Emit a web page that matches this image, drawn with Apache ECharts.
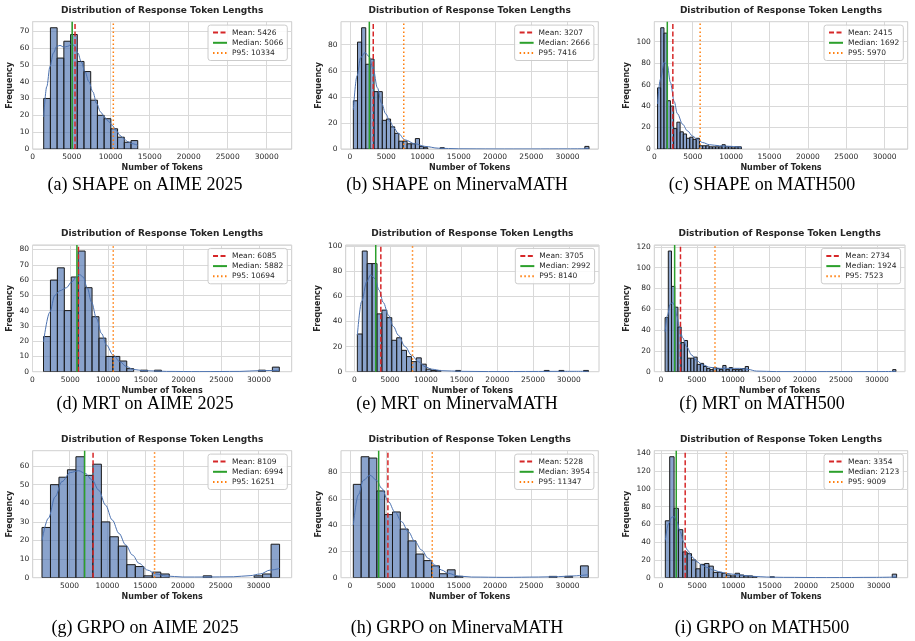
<!DOCTYPE html>
<html>
<head>
<meta charset="utf-8">
<script src="https://cdn.jsdelivr.net/npm/echarts@6/dist/echarts.min.js"></script>
<style>
html, body { margin: 0; padding: 0; background: #fff; }
#main { width: 915px; height: 641px; }
</style>
</head>
<body>
<div id="main"></div>
<script>
// captions of the nine panels
var captions = [
    '(a) SHAPE on AIME 2025', '(b) SHAPE on MinervaMATH', '(c) SHAPE on MATH500',
    '(d) MRT on AIME 2025', '(e) MRT on MinervaMATH', '(f) MRT on MATH500',
    '(g) GRPO on AIME 2025', '(h) GRPO on MinervaMATH', '(i) GRPO on MATH500'
];

// histogram: first bin edge and bin width (tokens)
var binStart = [1410, 465, 420, 1458, 420, 600, 1350, 460, 620];
var binWidth = [861, 570, 420, 918.6, 688, 445, 1123, 1080, 601];

// bin counts
var countsA = [30, 72, 54, 64, 68, 52, 46, 29, 20, 18, 12, 7, 4, 5];
var countsB = [37, 82, 93, 65, 69, 44, 44, 22, 23, 17, 12, 6, 6, 4, 4, 8, 2, 1, 0, 0, 0, 1,
    0, 0, 0, 0, 0, 0, 0, 0, 0, 0, 0, 0, 0, 0, 0, 0, 0, 0, 0, 0, 0, 0, 0, 0, 0, 0, 0, 0, 0, 0, 0, 0, 0, 0, 2];
var countsC = [57, 113, 108, 45, 40, 19, 25, 16, 14, 10, 11, 9, 10, 3, 3, 3, 2, 2, 2, 2, 4, 2, 2, 1, 2, 2];
var countsD = [23, 60, 68, 40, 62, 79, 55, 36, 22, 10, 10, 7, 2, 0, 1, 0, 1,
    0, 0, 0, 0, 0, 0, 0, 0, 0, 0, 0, 0, 0, 0, 1, 0, 3];
var countsE = [30, 96, 86, 86, 46, 49, 43, 25, 27, 17, 12, 8, 11, 6, 2, 1, 1, 0, 0, 0, 1,
    0, 0, 0, 0, 0, 0, 0, 0, 0, 0, 0, 0, 0, 0, 0, 0, 0, 1, 0, 0, 1, 0, 0, 0, 0, 1];
var countsF = [52, 116, 82, 62, 43, 28, 30, 13, 13, 14, 7, 8, 5, 3, 2, 4, 3, 2, 6, 2, 4, 2, 2, 2, 3, 5,
    0, 0, 0, 0, 0, 0, 0, 0, 0, 0, 0, 0, 0, 0, 0, 0, 0, 0, 0, 0, 0, 0, 0, 0, 0, 0, 0, 0, 0, 0,
    0, 0, 0, 0, 0, 0, 0, 0, 0, 0, 0, 0, 0, 0, 0, 2];
var countsG = [27, 50, 54, 58, 65, 55, 61, 30, 22, 17, 7, 6, 1, 3, 2, 0, 0, 0, 0, 1, 0, 0, 0, 0, 0, 1, 2, 18];
var countsH = [71, 92, 91, 66, 48, 50, 37, 28, 18, 13, 9, 3, 6, 1, 0, 0, 0, 0, 0, 0, 0, 0, 0, 0, 0, 1, 0, 1, 0, 9];
var countsI = [64, 136, 78, 54, 29, 27, 20, 10, 15, 16, 13, 6, 6, 5, 3, 2, 5, 3, 2, 2, 1, 0, 0, 0, 1,
    0, 0, 0, 0, 0, 0, 0, 0, 0, 0, 0, 0, 0, 0, 0, 0, 0, 0, 0, 0, 0, 0, 0, 0, 0, 0, 0, 4];

// kde curves [tokens, frequency]
var kdeA = [[1410, 19], [1800, 37], [2220, 49], [2650, 57], [3080, 61], [3500, 61.5], [4000, 60.5], [4500, 61],
    [5000, 62.5], [5400, 61], [5800, 57], [6200, 52], [6700, 46], [7200, 40], [7700, 34], [8200, 27], [8700, 22],
    [9200, 19], [9700, 16.5], [10200, 14], [10700, 11], [11200, 8], [11700, 6], [12200, 4.3], [12700, 3.2], [13460, 2.2]];
var kdeB = [[465, 30], [965, 56], [1470, 70], [2070, 74], [2620, 71], [3220, 61], [3770, 47], [4370, 35], [4920, 27],
    [5510, 21], [6070, 16], [6660, 12], [7580, 7], [8960, 4], [10340, 2], [12180, 0.6], [15000, 0.15], [20000, 0.03],
    [25000, 0.03], [30000, 0.1], [32955, 0.2]];
var kdeC = [[420, 42], [800, 65], [1300, 81], [1700, 78], [2100, 62], [2600, 44], [3000, 33], [3700, 23], [4300, 17],
    [5000, 12], [5600, 9], [6300, 6], [7200, 4], [8500, 3], [9800, 2.5], [11340, 1.5]];
var kdeD = [[1458, 19.5], [2300, 39], [2960, 50], [3620, 53], [4500, 55], [5170, 58.7], [5830, 62], [6270, 63.5],
    [6710, 62], [7240, 55], [7820, 45.6], [8480, 34.8], [9140, 25], [9800, 17.4], [10690, 10.9], [11570, 6.5],
    [12460, 3.3], [13340, 1.5], [14660, 0.7], [17760, 0.2], [22170, 0.05], [27470, 0.2], [30120, 0.7], [32690, 0.9]];
var kdeE = [[420, 29], [1030, 56], [1730, 71.6], [2290, 77], [2890, 74], [3450, 65], [4060, 55], [4760, 45],
    [5460, 36], [6160, 29], [7090, 20], [8020, 13], [8960, 8], [9890, 4], [10820, 2], [12220, 0.8], [15020, 0.3],
    [18750, 0.1], [25750, 0.2], [29000, 0.3], [32740, 0.3]];
var kdeF = [[600, 38], [920, 54], [1290, 64.6], [1610, 66.6], [1890, 64], [2210, 54], [2580, 43], [3040, 32.6],
    [3590, 24], [4290, 16], [4980, 10.6], [5900, 6.4], [6820, 4.2], [8200, 3.2], [9590, 3.2], [10970, 3.2],
    [12120, 2.2], [13270, 0.6], [16040, 0.1], [29860, 0.1], [32640, 0.3]];
var kdeG = [[1350, 20], [2200, 32], [3090, 43.5], [3980, 51.6], [5090, 56.5], [6200, 57.5], [7090, 56], [7980, 52.5],
    [8870, 47], [9760, 39], [10650, 31], [11540, 23.8], [12430, 17.6], [13320, 12.2], [14210, 7.7], [15320, 4.1],
    [16430, 2], [17770, 0.9], [20000, 0.36], [23100, 0.36], [26670, 0.5], [28890, 1.1], [30220, 2], [31560, 4.1], [32800, 5]];
var kdeH = [[460, 40], [1150, 63], [1840, 74], [2760, 78], [3680, 74], [4370, 68], [5280, 58], [6200, 50],
    [7120, 42.6], [8040, 35], [8960, 27.4], [9880, 21], [10800, 14.7], [11720, 9.6], [12640, 5.8], [13560, 3.3],
    [14940, 1.3], [16770, 0.5], [21370, 0.25], [25970, 0.5], [28720, 0.8], [30560, 1.3], [32860, 2.3]];
var kdeI = [[620, 42], [1060, 61], [1510, 68], [1830, 68.7], [2200, 63], [2660, 52], [3120, 40.5], [3670, 31],
    [4270, 23.6], [4950, 18], [5640, 14.3], [6330, 11.6], [7250, 8.6], [8170, 6.4], [9080, 4.9], [10000, 3.8],
    [11380, 2.6], [12750, 1.5], [14590, 0.75], [16880, 0.4], [22840, 0.1], [29720, 0.4], [32480, 0.75]];

// summary statistics
var means = [5426, 3207, 2415, 6085, 3705, 2734, 8109, 5228, 3354];
var medians = [5066, 2666, 1692, 5882, 2992, 1924, 6994, 3954, 2123];
var p95s = [10334, 7416, 5970, 10694, 8140, 7523, 16251, 11347, 9009];

// axis ranges and ticks
var xRange = [[0, 33200], [-1240, 34240], [0, 33000], [0, 34330], [-1210, 34230], [-900, 33900],
    [120, 34400], [-1240, 34240], [-900, 34000]];
var xTicks = [0, 5000, 10000, 15000, 20000, 25000, 30000];
var xTicksG = [5000, 10000, 15000, 20000, 25000, 30000];
var yStep = [10, 20, 20, 10, 20, 20, 10, 20, 20];

var countsList = [countsA, countsB, countsC, countsD, countsE, countsF, countsG, countsH, countsI];
var kdeList = [kdeA, kdeB, kdeC, kdeD, kdeE, kdeF, kdeG, kdeH, kdeI];

// layout
var gridBox = [
    [32.7, 21.7, 259, 127.3], [341, 21.7, 257.3, 127.3], [654.3, 21.7, 253.4, 127.3],
    [32.5, 245, 259.2, 126.7], [345.7, 245, 253.3, 126.7], [654.3, 245, 250.7, 126.7],
    [32.7, 450.7, 259, 127], [341, 450.7, 257.3, 127], [654.3, 450.7, 253.4, 127]
];
var yNameGap = [18.5, 18.5, 23, 18.5, 23.4, 23, 18.5, 18.5, 23];
var titleY = [10.4, 233.3, 439.3];
var captionX = [145, 457, 762];
var captionY = [185, 404, 628];

var FONT = 'DejaVu Sans';
var TXT = '#262626';
var GRIDC = '#d9d9d9';

function renderBar(params, api) {
    var c = api.value(2);
    if (!c) return null;
    var p0 = api.coord([api.value(0), c]);
    var p1 = api.coord([api.value(1), 0]);
    return {
        type: 'rect',
        shape: { x: p0[0], y: p0[1], width: p1[0] - p0[0], height: p1[1] - p0[1] },
        style: { fill: 'rgba(76,114,176,0.65)', stroke: '#1a1a1a', lineWidth: 1 }
    };
}

var grids = [], xAxes = [], yAxes = [], series = [], legends = [], graphics = [];

for (var i = 0; i < 9; i++) {
    var col = i % 3, row = Math.floor(i / 3);
    var g = gridBox[i];
    var yMax = Math.max.apply(null, countsList[i]) * 1.05;
    var step = yStep[i];

    grids.push({
        left: g[0], top: g[1], width: g[2], height: g[3],
        show: true, borderColor: '#cccccc', borderWidth: 1, backgroundColor: '#fff',
        containLabel: false, outerBoundsMode: 'none'
    });

    var ticks = i === 6 ? xTicksG : xTicks;
    xAxes.push({
        type: 'value', gridIndex: i, min: xRange[i][0], max: xRange[i][1],
        axisLine: { show: false },
        axisTick: { show: false, customValues: ticks },
        axisLabel: {
            customValues: ticks, fontSize: 7.5, color: TXT, fontFamily: FONT, margin: 4,
            formatter: function (v) { return String(v); }
        },
        splitLine: { show: true, lineStyle: { color: GRIDC, width: 1 } },
        name: 'Number of Tokens', nameLocation: 'middle', nameGap: 15.3,
        nameTextStyle: { fontFamily: FONT, fontSize: 8, fontWeight: 'bold', color: TXT }
    });

    yAxes.push({
        type: 'value', gridIndex: i, min: 0, max: yMax, interval: step,
        axisLine: { show: false },
        axisTick: { show: false },
        axisLabel: {
            fontSize: 7.5, color: TXT, fontFamily: FONT, margin: 3.5,
            formatter: (function (s) {
                return function (v) { return Math.abs(v % s) < 1e-6 ? String(v) : ''; };
            })(step)
        },
        splitLine: { show: true, lineStyle: { color: GRIDC, width: 1 } },
        name: 'Frequency', nameLocation: 'middle', nameGap: yNameGap[i],
        nameTextStyle: { fontFamily: FONT, fontSize: 8, fontWeight: 'bold', color: TXT }
    });

    var bars = countsList[i].map(function (c, k) {
        return [binStart[i] + k * binWidth[i], binStart[i] + (k + 1) * binWidth[i], c];
    });
    series.push({
        type: 'custom', xAxisIndex: i, yAxisIndex: i, data: bars,
        encode: { x: [0, 1], y: 2 }, renderItem: renderBar, clip: true, silent: true, z: 2
    });

    series.push({
        type: 'line', xAxisIndex: i, yAxisIndex: i, data: kdeList[i],
        smooth: 0.35, smoothMonotone: 'x', symbol: 'none', silent: true, z: 3,
        lineStyle: { color: '#4c72b0', width: 1 }
    });

    var statNames = ['Mean: ' + means[i], 'Median: ' + medians[i], 'P95: ' + p95s[i]];
    var statVals = [means[i], medians[i], p95s[i]];
    var statColors = ['#d62728', '#2ca02c', '#ff7f0e'];
    var statTypes = [[5, 2.5], 'solid', [1.5, 2.5]];
    for (var j = 0; j < 3; j++) {
        series.push({
            type: 'line', name: statNames[j], xAxisIndex: i, yAxisIndex: i,
            data: [[statVals[j], 0], [statVals[j], yMax]],
            symbol: 'none', silent: true, z: 4,
            itemStyle: { color: statColors[j] },
            lineStyle: { color: statColors[j], width: 1.5, type: statTypes[j] }
        });
    }

    legends.push({
        orient: 'vertical',
        right: 915 - (g[0] + g[2]) + 4.4,
        top: g[1] + 3.4,
        itemWidth: 14, itemHeight: 8, itemGap: 2.2,
        padding: [3.5, 4, 3.5, 4],
        backgroundColor: 'rgba(255,255,255,0.85)',
        borderColor: '#cccccc', borderWidth: 1, borderRadius: 2.5,
        selectedMode: false,
        itemStyle: { opacity: 0 },
        textStyle: { fontFamily: FONT, fontSize: 7.5, color: TXT },
        data: statNames
    });

    graphics.push({
        type: 'text', x: g[0] + g[2] / 2, y: titleY[row], silent: true,
        style: {
            text: 'Distribution of Response Token Lengths', fill: TXT,
            font: 'bold 9px "DejaVu Sans"', align: 'center', verticalAlign: 'middle'
        }
    });
    graphics.push({
        type: 'text', x: captionX[col], y: captionY[row], silent: true,
        style: {
            text: captions[i], fill: '#000',
            font: '18px "Liberation Serif"', align: 'center', verticalAlign: 'middle'
        }
    });
}

var chart = echarts.init(document.getElementById('main'));
chart.setOption({
    animation: false,
    backgroundColor: '#fff',
    grid: grids,
    xAxis: xAxes,
    yAxis: yAxes,
    legend: legends,
    series: series,
    graphic: graphics
});
</script>
</body>
</html>
